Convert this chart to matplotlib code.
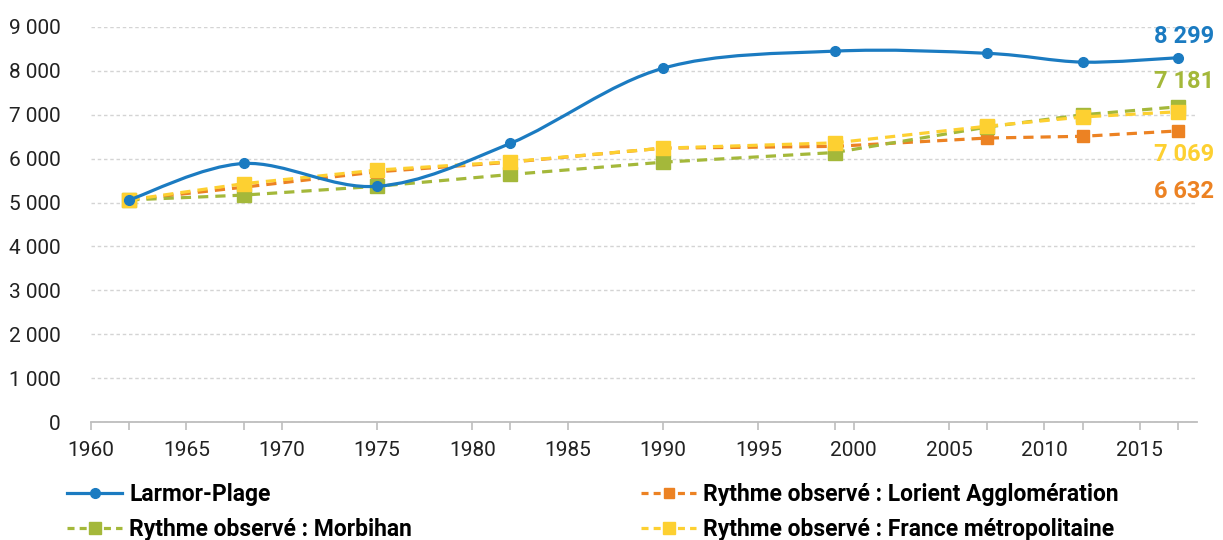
"""Population de Larmor-Plage vs rythmes observés (1962-2017)."""
import matplotlib
matplotlib.use("Agg")
import matplotlib.pyplot as plt
from matplotlib.path import Path
from matplotlib.patches import PathPatch
from matplotlib.lines import Line2D
from matplotlib.ticker import FuncFormatter, FixedLocator

years = [1962, 1968, 1975, 1982, 1990, 1999, 2007, 2012, 2017]
larmor = [5060, 5890, 5370, 6350, 8060, 8450, 8400, 8200, 8299]
lorient = [5060, 5350, 5700, 5920, 6240, 6280, 6470, 6510, 6632]
morbihan = [5060, 5170, 5370, 5640, 5920, 6140, 6720, 7000, 7181]
france = [5060, 5430, 5740, 5930, 6240, 6360, 6740, 6950, 7069]

labels = ["Larmor-Plage", "Rythme observé : Lorient Agglomération",
          "Rythme observé : Morbihan", "Rythme observé : France métropolitaine"]

BLUE, ORANGE, GREEN, YELLOW = "#1b7bc1", "#ec8223", "#a4b83a", "#fdd031"
plt.rcParams["font.family"] = ["Roboto", "DejaVu Sans"]


def smooth_path(x, y):
    # Excel-like smoothed line: cubic Bezier segments with Catmull-Rom control points
    pts = list(zip(x, y))
    verts, codes = [pts[0]], [Path.MOVETO]
    n = len(pts)
    for i in range(n - 1):
        p0 = pts[i - 1] if i > 0 else pts[i]
        p1, p2 = pts[i], pts[i + 1]
        p3 = pts[i + 2] if i + 2 < n else pts[i + 1]
        c1 = (p1[0] + (p2[0] - p0[0]) / 6, p1[1] + (p2[1] - p0[1]) / 6)
        c2 = (p2[0] - (p3[0] - p1[0]) / 6, p2[1] - (p3[1] - p1[1]) / 6)
        verts += [c1, c2, p2]
        codes += [Path.CURVE4] * 3
    return Path(verts, codes)


fig = plt.figure(figsize=(12.23, 5.4), dpi=100)
ax = fig.add_axes([0.0744, 0.2185, 0.9043, 0.7315])

dash = (3.2, 2.2)
ax.plot(years, lorient, color=ORANGE, lw=2.3, ls=(0, dash), marker="s", ms=8,
        clip_on=False, zorder=3)
ax.plot(years, morbihan, color=GREEN, lw=2.3, ls=(0, dash), marker="s", ms=10,
        clip_on=False, zorder=4)
ax.plot(years, france, color=YELLOW, lw=2.3, ls=(0, dash), marker="s", ms=10,
        clip_on=False, zorder=5)
ax.add_patch(PathPatch(smooth_path(years, larmor), fill=False, ec=BLUE, lw=2.3,
                       zorder=6, clip_on=False))
ax.plot(years, larmor, ls="none", marker="o", ms=7, color=BLUE, clip_on=False, zorder=7)

# end labels
ends = [(larmor, BLUE, (36, 21)), (morbihan, GREEN, (36, 25)),
        (france, YELLOW, (36, -43)), (lorient, ORANGE, (36, -61))]
for ser, col, off in ends:
    ax.annotate(f"{ser[-1]:,}".replace(",", " "), xy=(years[-1], ser[-1]),
                xytext=off, textcoords="offset pixels", ha="right", va="center",
                color=col, fontsize=17, fontweight="bold", annotation_clip=False)

ax.set_xlim(1960, 2018)
ax.set_ylim(0, 9000)
ax.set_yticks(range(0, 9001, 1000))
ax.yaxis.set_major_formatter(FuncFormatter(lambda v, p: f"{int(v):,}".replace(",", " ")))
ax.set_xticks(range(1960, 2016, 5))
ax.xaxis.set_minor_locator(FixedLocator(years))
ax.grid(axis="y", color="#d4d4d4", ls=(0, (2.5, 2)), lw=1)
ax.set_axisbelow(True)
for s in ["top", "right", "left"]:
    ax.spines[s].set_visible(False)
ax.spines["bottom"].set_color("#bdbdbd")
ax.spines["bottom"].set_linewidth(1.3)
ax.tick_params(axis="y", length=0, labelsize=15, colors="#222222", pad=22)
ax.tick_params(axis="x", which="both", length=6, color="#bdbdbd", width=1.2,
               labelsize=15, labelcolor="#222222", pad=8)

handles = [
    Line2D([], [], color=BLUE, lw=2.3, marker="o", ms=7),
    Line2D([], [], color=GREEN, lw=2.3, ls=(0, (2.2, 1.6)), marker="s", ms=8),
    Line2D([], [], color=ORANGE, lw=2.3, ls=(0, (2.2, 1.6)), marker="s", ms=7),
    Line2D([], [], color=YELLOW, lw=2.3, ls=(0, (2.2, 1.6)), marker="s", ms=8),
]
leg_labels = [labels[0], labels[2], labels[1], labels[3]]
fig.legend(handles, leg_labels, ncol=2, loc="lower left", bbox_to_anchor=(0.04, -0.035),
           frameon=False, prop={"weight": "bold", "size": 16.5}, handlelength=2.4,
           handletextpad=0.3, columnspacing=10.0, labelspacing=0.51, borderpad=0.3)

fig.savefig("out.png", dpi=100)
